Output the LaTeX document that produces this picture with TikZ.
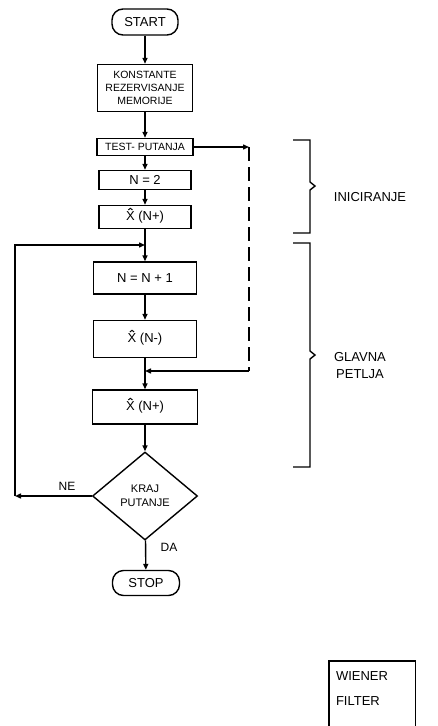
\documentclass[tikz,border=0pt]{standalone}
\usepackage{fontspec}
\setmainfont{Liberation Sans}
\usetikzlibrary{
  arrows.meta,
  positioning,
  shapes.geometric
}
\newcommand{\xkapa}{\ooalign{X\cr\hidewidth\tikz[baseline=0pt, x=1em, y=1em]
  \draw[line width=0.075em, line join=miter] (0,0.8) -- (0.16,0.93) -- (0.32,0.8);\hidewidth\cr}}

\begin{document}
\begin{tikzpicture}[
  x=1pt, y=-1pt,
  term/.style={
    draw, line width=1.4pt, rounded corners=11pt, minimum width=66pt,
    minimum height=26pt, inner sep=0pt, font=\fontsize{13}{15}\selectfont
  },
  box/.style={
    draw, line width=1.4pt, inner sep=0pt, align=center,
    font=\fontsize{13}{15}\selectfont
  },
  cond/.style={
    draw, diamond, line width=1.4pt, minimum width=105pt,
    minimum height=88pt, inner sep=0pt, aspect=1.2, align=center,
    font=\fontsize{11}{14}\selectfont
  },
  lbl/.style={font=\fontsize{13}{17}\selectfont, align=center},
  arr/.style={-{Triangle[length=6pt,width=5pt]}, line width=1.4pt},
  brk/.style={line width=1.4pt},
]
\useasboundingbox (0,0) rectangle (437,726);

\node[term] (start) at (145,22) {START};
\node[box, minimum width=95pt, minimum height=47pt,
      font=\fontsize{10.5}{13}\selectfont] (konst) at (145,88)
  {KONSTANTE\\REZERVISANJE\\MEMORIJE};
\node[box, minimum width=96pt, minimum height=17pt,
      font=\fontsize{10.5}{12}\selectfont] (test) at (145,147) {TEST- PUTANJA};
\node[box, minimum width=92pt, minimum height=19pt] (n2)  at (145,180) {N = 2};
\node[box, minimum width=92pt, minimum height=23pt] (xp1) at (145,217) {\xkapa{} (N+)};
\node[box, minimum width=103pt, minimum height=32pt] (nn1) at (145,278) {N = N + 1};
\node[box, minimum width=103pt, minimum height=37pt] (xm)  at (145,339) {\xkapa{} (N-)};
\node[box, minimum width=105pt, minimum height=34pt] (xp2) at (145,407) {\xkapa{} (N+)};
\node[cond] (kraj) at (145,496) {KRAJ\\PUTANJE};
\node[term, minimum width=67pt, minimum height=25pt] (stop) at (146,583) {STOP};

\draw[arr] (start) -- (konst);
\draw[arr] (konst) -- (test);
\draw[arr] (test) -- (n2);
\draw[arr] (n2) -- (xp1);
\draw[arr] (xp1) -- (nn1);
\draw[arr] (nn1) -- (xm);
\draw[arr] (xm) -- (xp2);
\draw[arr] (xp2) -- (kraj);
\draw[arr] (kraj) -- (stop);
\node[lbl, font=\fontsize{12}{14}\selectfont] (da) at (169,547) {DA};

% povratna petlja
\coordinate (loopl) at (15,496);
\coordinate (j1) at (145,245);
\draw[arr] (kraj.west) -- (loopl);
\node[lbl, font=\fontsize{12}{14}\selectfont] (ne) at (67,486) {NE};
\draw[arr] (loopl) -- (loopl |- j1) -- (j1);

% test putanja
\coordinate (dtop) at (249,147);
\coordinate (dbot) at (249,371);
\coordinate (j2) at (145,371);
\draw[arr] (test.east) -- (dtop);
\draw[line width=1.4pt, dash pattern=on 14pt off 6pt] (dtop) -- (dbot);
\draw[arr] (dbot) -- (j2);

% zagrade
\draw[brk] (293,140) -- (310,140) -- (310,182) -- (315,186) -- (310,190)
  -- (310,233) -- (293,233);
\draw[brk] (293,243) -- (310,243) -- (310,351) -- (315,355) -- (310,359)
  -- (310,467) -- (293,467);
\node[lbl] (inic) at (370,197) {INICIRANJE};
\node[lbl] (glavna) at (360,366) {GLAVNA\\PETLJA};

\node[lbl, text width=72pt, align=left, minimum width=86pt,
      minimum height=55pt, font=\fontsize{13}{25}\selectfont] (wiener)
  at (372,688.5) {WIENER\\FILTER};
\draw[brk] ([yshift=-10pt]wiener.south west) -- (wiener.north west)
  -- (wiener.north east) -- ([yshift=-10pt]wiener.south east);

\end{tikzpicture}
\end{document}
